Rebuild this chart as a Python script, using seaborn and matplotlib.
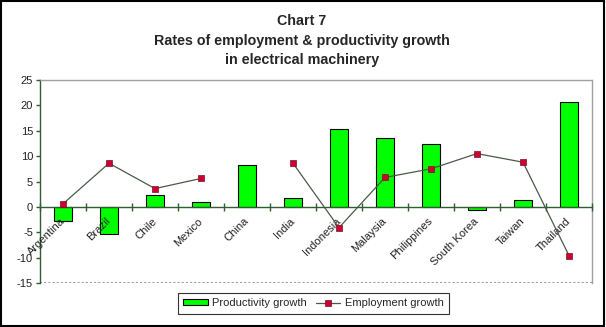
import numpy as np
import pandas as pd
import matplotlib
matplotlib.use("Agg")
import matplotlib.pyplot as plt
import seaborn as sns
from matplotlib.patches import Patch
from matplotlib.lines import Line2D

countries = ["Argentina", "Brazil", "Chile", "Mexico", "China", "India",
             "Indonesia", "Malaysia", "Philippines", "South Korea", "Taiwan", "Thailand"]
productivity = [-2.7, -5.4, 2.3, 0.9, 8.2, 1.8, 15.3, 13.6, 12.4, -0.6, 1.4, 20.7]
employment = [0.6, 8.6, 3.6, 5.6, np.nan, 8.6, -4.1, 5.8, 7.5, 10.5, 8.8, -9.6]
yticks = [-15, -10, -5, 0, 5, 10, 15, 20, 25]
title = "Chart 7\nRates of employment & productivity growth\nin electrical machinery"

sns.set_style("white")
plt.rcParams["font.family"] = ["Liberation Sans", "DejaVu Sans"]

df = pd.DataFrame({"country": countries, "prod": productivity, "emp": employment})

fig = plt.figure(figsize=(6.06, 3.27), dpi=100)
ax = fig.add_axes([40 / 606, 1 - 283 / 327, 552 / 606, 203 / 327])

axis_col = "#2f5f2f"
sns.barplot(data=df, x="country", y="prod", ax=ax, color="#00FF00",
            saturation=1, width=0.38, edgecolor="black", linewidth=0.8, zorder=2)
xpos = np.arange(len(countries))
ax.plot(xpos, df["emp"].values, color="#4a5a4a", lw=0.9, marker="s", ms=3.8,
        mfc="#CC0033", mec="#7a1020", mew=0.5, zorder=3)
ax.set_axisbelow(False)

ax.set_xlim(-0.5, len(countries) - 0.5)
ax.set_ylim(-15, 25)
ax.set_yticks(yticks)
ax.set_yticklabels([str(v) for v in yticks], fontsize=8, color="#222222")
ax.set_xlabel("")
ax.set_ylabel("")

ax.spines["bottom"].set_position(("data", 0))
ax.spines["bottom"].set_color(axis_col)
ax.spines["bottom"].set_linewidth(1.0)
ax.spines["left"].set_color(axis_col)
ax.spines["left"].set_linewidth(1.0)
for s in ["top", "right"]:
    ax.spines[s].set_color("#a0a0a0")
    ax.spines[s].set_linestyle((0, (1, 1)))
    ax.spines[s].set_linewidth(1.0)
ax.axhline(-15, color="#a0a0a0", ls=(0, (1, 1)), lw=1.5, zorder=1)

ax.set_xticks(np.arange(-0.5, len(countries), 1))
ax.set_xticklabels([])
ax.set_xticks(xpos, minor=True)
ax.set_xticklabels(countries, minor=True, rotation=45, ha="right", va="center",
                   rotation_mode="anchor", fontsize=8, color="#222222")
ax.tick_params(axis="x", which="major", direction="inout", length=6, width=1,
               color=axis_col, bottom=True)
ax.tick_params(axis="x", which="minor", length=0, pad=9)
ax.tick_params(axis="y", direction="out", length=3, width=1, color=axis_col,
               left=True, pad=2)

fig.text(0.498, 0.957, title, ha="center", va="top", fontsize=10.3,
         fontweight="bold", linespacing=1.5)

handles = [Patch(facecolor="#00FF00", edgecolor="black", linewidth=0.8),
           Line2D([0], [0], color="#4a5a4a", lw=0.9, marker="s", ms=3.8,
                  mfc="#CC0033", mec="#7a1020", mew=0.5)]
leg = fig.legend(handles, ["Productivity growth", "Employment growth"],
                 loc="center", bbox_to_anchor=(0.517, 0.073), ncol=2,
                 fontsize=8, frameon=True, fancybox=False, edgecolor="black",
                 handlelength=2.2, handleheight=0.5, columnspacing=0.8,
                 handletextpad=0.4, borderpad=0.5, borderaxespad=0)
leg.get_frame().set_linewidth(0.8)

fig.patches.append(plt.Rectangle((0.001, 0.002), 0.995, 0.996, transform=fig.transFigure,
                                 fill=False, edgecolor="black", lw=1.5))

fig.savefig("out.png", dpi=100)
